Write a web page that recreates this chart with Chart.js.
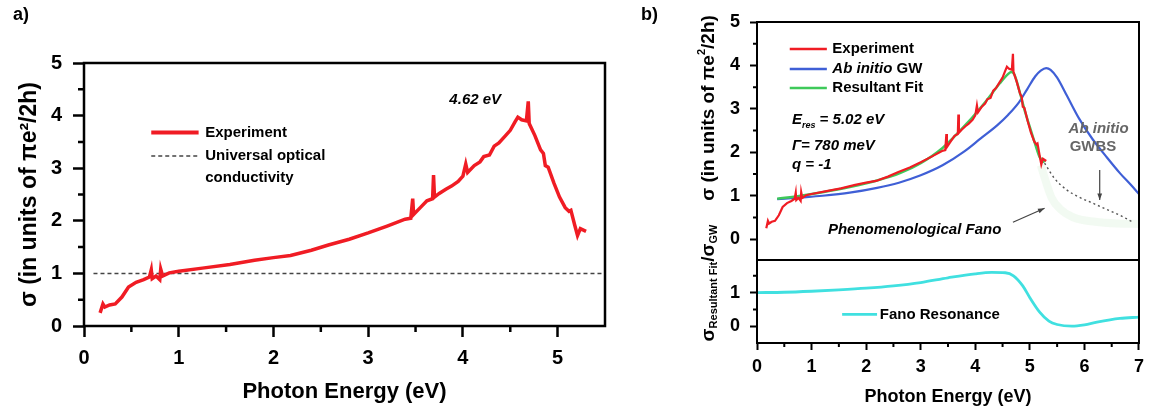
<!DOCTYPE html>
<html>
<head>
<meta charset="utf-8">
<script src="https://cdn.jsdelivr.net/npm/chart.js@4"></script>
<style>
html, body { margin: 0; padding: 0; background: #fff; }
#wrap { position: relative; width: 1150px; height: 414px; }
canvas { position: absolute; left: 0; top: 0; }
</style>
</head>
<body>
<div id="wrap">
  <canvas id="chartA" width="1150" height="414"></canvas>
  <canvas id="chartB" width="1150" height="414"></canvas>
  <canvas id="chartC" width="1150" height="414"></canvas>
</div>
<script>
// measured optical conductivity (used in both panels)
const expEnergy = [0.17,0.20,0.22,0.27,0.33,0.40,0.47,0.55,0.63,0.69,0.71,0.72,0.76,0.80,0.81,0.83,0.90,1.00,1.25,1.54,
  1.80,2.00,2.18,2.40,2.58,2.80,3.00,3.20,3.39,3.45,3.47,3.48,3.55,3.62,3.68,3.69,3.70,3.75,3.82,3.88,
  3.95,4.00,4.03,4.05,4.12,4.18,4.22,4.28,4.33,4.38,4.45,4.50,4.55,4.58,4.62,4.67,4.69,4.70,4.76,4.82,
  4.85,4.87,4.90,4.96,5.02,5.08,5.12,5.14,5.18,5.21,5.24,5.30];
const expSigma = [0.25,0.42,0.36,0.40,0.42,0.55,0.74,0.83,0.88,0.93,1.07,0.90,0.95,0.88,1.08,0.95,1.01,1.04,1.10,1.17,
  1.25,1.30,1.34,1.44,1.54,1.65,1.77,1.90,2.03,2.05,2.42,2.12,2.25,2.38,2.42,2.87,2.45,2.52,2.60,2.66,
  2.75,2.85,3.08,2.92,3.05,3.12,3.22,3.25,3.42,3.48,3.62,3.72,3.88,3.97,3.92,3.90,4.27,3.85,3.62,3.35,
  3.28,3.05,3.02,2.72,2.45,2.25,2.18,2.20,1.92,1.72,1.85,1.80];

// universal optical conductivity
const univEnergy = [0.1, 5.5];
const univSigma = [1, 1];

// panel b, upper
const fitEnergy = [0.37,0.8,1.2,1.7,2.2,2.62,3.0,3.4,3.85,4.21,4.45,4.6,4.66,4.72,4.82,4.92,5.0,5.09,5.18,5.27];
const fitSigma = [0.93,1.0,1.08,1.2,1.35,1.52,1.75,2.1,2.67,3.2,3.59,3.8,3.85,3.78,3.36,2.9,2.58,2.22,1.89,1.77];
const gwEnergy = [0.37,0.8,1.2,1.7,2.2,2.6,3.0,3.4,3.8,4.1,4.4,4.6,4.8,4.95,5.1,5.2,5.3,5.38,5.5,5.68,5.9,6.15,6.4,6.65,6.85,7.0];
const gwSigma = [0.92,0.96,1.0,1.07,1.18,1.3,1.47,1.7,2.02,2.32,2.62,2.86,3.15,3.45,3.75,3.88,3.94,3.9,3.72,3.3,2.78,2.3,1.9,1.52,1.25,1.04];
const gwbsEnergy = [5.27,5.45,5.68,5.9,6.15,6.4,6.65,6.89];
const gwbsSigma = [1.75,1.4,1.13,0.97,0.83,0.69,0.55,0.39];
const fanoTailEnergy = [5.2,5.3,5.4,5.55,5.8,6.2,6.6,7.0];
const fanoTailSigma = [1.7,1.3,0.95,0.7,0.5,0.4,0.36,0.35];

// panel b, lower: sigma(fit) / sigma(GW)
const ratioEnergy = [0,0.5,1,1.5,2,2.5,3,3.5,4,4.3,4.55,4.7,4.87,5.0,5.18,5.35,5.5,5.77,6.0,6.23,6.65,7];
const ratioValue = [1.0,1.01,1.04,1.08,1.13,1.2,1.3,1.44,1.56,1.6,1.59,1.5,1.2,0.85,0.42,0.15,0.05,0.0,0.04,0.12,0.23,0.27];

// tick labels
const aXTicks = [0,1,2,3,4,5];
const aYTicks = [0,1,2,3,4,5];
const bXTicks = [0,1,2,3,4,5,6,7];
const bYTicks = [0,1,2,3,4,5];
const cYTicks = [0,1];

const FAMILY = "'Liberation Sans', Arial, Helvetica, sans-serif";
const RED = '#f01c24', BLUE = '#3f5fd6', GREEN = '#3ec95a', CYAN = '#40e0e0';

function xy(xs, ys) { return xs.map((x, i) => ({ x: x, y: ys[i] })); }
function halves(lo, hi) { const r = []; for (let v = lo; v <= hi + 1e-9; v += 1) r.push(v); return r; }

function fontOf(r) { return (r.style || 'bold') + ' ' + r.size + 'px ' + FAMILY; }

function drawRuns(ctx, x, y, runs, align, rot, color) {
  ctx.save();
  ctx.translate(x, y);
  ctx.rotate(rot || 0);
  ctx.textBaseline = 'middle';
  ctx.textAlign = 'left';
  ctx.fillStyle = color || '#000';
  let w = 0;
  runs.forEach(r => { ctx.font = fontOf(r); w += ctx.measureText(r.t).width; });
  let cx = align === 'center' ? -w / 2 : align === 'right' ? -w : 0;
  runs.forEach(r => {
    ctx.font = fontOf(r);
    ctx.fillText(r.t, cx, r.dy || 0);
    cx += ctx.measureText(r.t).width;
  });
  ctx.restore();
}

// box around the plot area plus short minor ticks
const framePlugin = {
  id: 'frame',
  afterDatasetsDraw(chart, args, o) {
    const { ctx, chartArea: a, scales } = chart;
    ctx.save();
    ctx.strokeStyle = '#000';
    ctx.lineWidth = o.width;
    ctx.setLineDash([]);
    ctx.strokeRect(a.left, a.top, a.right - a.left, a.bottom - a.top);
    ctx.beginPath();
    (o.minorX || []).forEach(v => {
      const p = scales.x.getPixelForValue(v);
      ctx.moveTo(p, a.bottom); ctx.lineTo(p, a.bottom + o.minorLen);
    });
    (o.minorY || []).forEach(v => {
      const p = scales.y.getPixelForValue(v);
      ctx.moveTo(a.left, p); ctx.lineTo(a.left - o.minorLen, p);
    });
    ctx.stroke();
    ctx.restore();
  }
};

// legend samples, arrows and labels
const notesPlugin = {
  id: 'notes',
  afterDatasetsDraw(chart, args, o) {
    const ctx = chart.ctx, sx = chart.scales.x, sy = chart.scales.y;
    ctx.save();
    (o.lines || []).forEach(l => {
      const x0 = sx.getPixelForValue(l.x[0]), y0 = sy.getPixelForValue(l.y[0]);
      const x1 = sx.getPixelForValue(l.x[1]), y1 = sy.getPixelForValue(l.y[1]);
      ctx.beginPath();
      ctx.strokeStyle = l.color;
      ctx.lineWidth = l.width;
      ctx.setLineDash(l.dash || []);
      ctx.moveTo(x0, y0); ctx.lineTo(x1, y1);
      ctx.stroke();
      if (l.arrow) {
        const ang = Math.atan2(y1 - y0, x1 - x0), h = 7;
        ctx.setLineDash([]);
        ctx.beginPath();
        ctx.fillStyle = l.color;
        ctx.moveTo(x1, y1);
        ctx.lineTo(x1 - h * Math.cos(ang - 0.35), y1 - h * Math.sin(ang - 0.35));
        ctx.lineTo(x1 - h * Math.cos(ang + 0.35), y1 - h * Math.sin(ang + 0.35));
        ctx.closePath();
        ctx.fill();
      }
    });
    (o.texts || []).forEach(t => {
      const px = t.px ? t.px[0] : sx.getPixelForValue(t.x);
      const py = t.px ? t.px[1] : sy.getPixelForValue(t.y);
      drawRuns(ctx, px, py, t.runs, t.align, t.rot, t.color);
    });
    ctx.restore();
  }
};

function axis(o) {
  return {
    type: 'linear',
    min: o.min, max: o.max,
    display: o.display !== false,
    afterBuildTicks: s => { s.ticks = o.ticks.map(v => ({ value: v })); },
    afterFit: s => { if (s.isHorizontal()) s.height = o.size; else s.width = o.size; },
    border: { display: false },
    grid: { drawOnChartArea: false, drawTicks: true, tickLength: o.tickLen, tickWidth: o.lw, tickColor: '#000' },
    ticks: { color: '#000', font: { family: FAMILY, size: o.font, weight: 'bold' }, padding: o.pad,
      maxRotation: 0, autoSkip: false, callback: v => String(v) },
    title: o.title ? { display: true, text: o.title, color: '#000',
      font: { family: FAMILY, size: o.titleSize, weight: 'bold' }, padding: o.titlePad } : { display: false }
  };
}

const base = { responsive: false, animation: false, events: [] };

// ---------- panel a ----------
new Chart(document.getElementById('chartA'), {
  type: 'scatter',
  data: {
    datasets: [
      { label: 'Experiment', data: xy(expEnergy, expSigma), showLine: true, borderColor: RED, borderWidth: 3.5,
        pointRadius: 0, tension: 0 },
      { label: 'Universal optical conductivity', data: xy(univEnergy, univSigma), showLine: true, borderColor: '#444',
        borderWidth: 1.5, borderDash: [4, 3], pointRadius: 0 }
    ]
  },
  options: Object.assign({}, base, {
    layout: { padding: { left: 0, top: 63, right: 545, bottom: 0 } },
    plugins: {
      legend: { display: false }, tooltip: { enabled: false },
      frame: { width: 2.5, minorLen: 6, minorX: halves(0.5, 5.0), minorY: halves(0.5, 4.5) },
      notes: {
        lines: [
          { x: [0.71, 1.21], y: [3.68, 3.68], color: RED, width: 4 },
          { x: [0.71, 1.21], y: [3.23, 3.23], color: '#444', width: 1.5, dash: [4, 3] }
        ],
        texts: [
          { x: 1.28, y: 3.68, runs: [{ t: 'Experiment', size: 15 }] },
          { x: 1.28, y: 3.23, runs: [{ t: 'Universal optical', size: 15 }] },
          { x: 1.28, y: 2.81, runs: [{ t: 'conductivity', size: 15 }] },
          { x: 4.13, y: 4.29, align: 'center', runs: [{ t: '4.62 eV', size: 15, style: 'italic bold' }] },
          { px: [13, 15], runs: [{ t: 'a)', size: 18 }] }
        ]
      }
    },
    scales: {
      x: axis({ min: 0, max: 5.5, ticks: aXTicks, size: 88, tickLen: 11, lw: 2.5, font: 20, pad: 9,
        title: 'Photon Energy (eV)', titleSize: 22, titlePad: { top: 0, bottom: 9 } }),
      y: axis({ min: 0, max: 5, ticks: aYTicks, size: 84, tickLen: 11, lw: 2.5, font: 20, pad: 11,
        title: 'σ (in units of πe²/2h)', titleSize: 23, titlePad: { top: 16, bottom: 0 } })
    }
  }),
  plugins: [framePlugin, notesPlugin]
});

// ---------- panel b, upper ----------
new Chart(document.getElementById('chartB'), {
  type: 'scatter',
  data: {
    datasets: [
      { label: 'Experiment', data: xy(expEnergy, expSigma), showLine: true, borderColor: RED, borderWidth: 2.2,
        pointRadius: 0, tension: 0 },
      { label: 'Resultant Fit', data: xy(fitEnergy, fitSigma), showLine: true, borderColor: GREEN, borderWidth: 2.5,
        pointRadius: 0, cubicInterpolationMode: 'monotone' },
      { label: 'Ab initio GW', data: xy(gwEnergy, gwSigma), showLine: true, borderColor: BLUE, borderWidth: 2.2,
        pointRadius: 0, cubicInterpolationMode: 'monotone' },
      { label: 'Ab initio GWBS', data: xy(gwbsEnergy, gwbsSigma), showLine: true, borderColor: '#555',
        borderWidth: 1.4, borderDash: [2, 3], pointRadius: 0, cubicInterpolationMode: 'monotone' },
      { label: 'Phenomenological Fano', data: xy(fanoTailEnergy, fanoTailSigma), showLine: true,
        borderColor: 'rgba(150,215,150,0.12)', borderWidth: 8, pointRadius: 0, cubicInterpolationMode: 'monotone' }
    ]
  },
  options: Object.assign({}, base, {
    layout: { padding: { left: 640, top: 22, right: 11, bottom: 154 } },
    plugins: {
      legend: { display: false }, tooltip: { enabled: false },
      frame: { width: 2, minorLen: 4, minorY: halves(0.5, 4.5) },
      notes: {
        lines: [
          { x: [0.6, 1.28], y: [4.38, 4.38], color: RED, width: 2.5 },
          { x: [0.6, 1.28], y: [3.92, 3.92], color: BLUE, width: 2.5 },
          { x: [0.6, 1.28], y: [3.48, 3.48], color: GREEN, width: 2.5 },
          { x: [4.69, 5.27], y: [0.39, 0.71], color: '#444', width: 1.2, arrow: true },
          { x: [6.28, 6.28], y: [1.59, 0.9], color: '#444', width: 1.2, arrow: true }
        ],
        texts: [
          { x: 1.38, y: 4.38, runs: [{ t: 'Experiment', size: 15 }] },
          { x: 1.38, y: 3.92, runs: [{ t: 'Ab initio', size: 15, style: 'italic bold' }, { t: ' GW', size: 15 }] },
          { x: 1.38, y: 3.48, runs: [{ t: 'Resultant Fit', size: 15 }] },
          { x: 0.64, y: 2.74, runs: [{ t: 'E', size: 15, style: 'italic bold' }, { t: 'res', size: 9, style: 'italic bold', dy: 5 },
            { t: ' = 5.02 eV', size: 15, style: 'italic bold' }] },
          { x: 0.64, y: 2.14, runs: [{ t: 'Γ= 780 meV', size: 15, style: 'italic bold' }] },
          { x: 0.64, y: 1.70, runs: [{ t: 'q = -1', size: 15, style: 'italic bold' }] },
          { x: 6.26, y: 2.55, align: 'center', color: '#666', runs: [{ t: 'Ab initio', size: 15, style: 'italic bold' }] },
          { x: 5.73, y: 2.12, color: '#666', runs: [{ t: 'GWBS', size: 15 }] },
          { x: 1.30, y: 0.21, runs: [{ t: 'Phenomenological Fano', size: 15, style: 'italic bold' }] },
          { px: [641, 15], runs: [{ t: 'b)', size: 18 }] },
          { px: [709, 108], align: 'center', rot: -Math.PI / 2,
            runs: [{ t: 'σ (in units of πe', size: 19 }, { t: '2', size: 11, dy: -7 }, { t: '/2h)', size: 19 }] },
          { px: [709, 283], align: 'center', rot: -Math.PI / 2,
            runs: [{ t: 'σ', size: 19 }, { t: 'Resultant Fit', size: 11, dy: 5 }, { t: '/σ', size: 19 }, { t: 'GW', size: 11, dy: 5 }] }
        ]
      }
    },
    scales: {
      x: axis({ min: 0, max: 7, ticks: bXTicks, display: false, size: 0, tickLen: 7, lw: 2, font: 18, pad: 6 }),
      y: axis({ min: -0.48, max: 5, ticks: bYTicks, size: 117, tickLen: 7, lw: 2, font: 18, pad: 10 })
    }
  }),
  plugins: [framePlugin, notesPlugin]
});

// ---------- panel b, lower ----------
new Chart(document.getElementById('chartC'), {
  type: 'scatter',
  data: {
    datasets: [
      { label: 'Fano Resonance', data: xy(ratioEnergy, ratioValue), showLine: true, borderColor: CYAN, borderWidth: 2.8,
        pointRadius: 0, cubicInterpolationMode: 'monotone' }
    ]
  },
  options: Object.assign({}, base, {
    layout: { padding: { left: 640, top: 260, right: 11, bottom: 0 } },
    plugins: {
      legend: { display: false }, tooltip: { enabled: false },
      frame: { width: 2, minorLen: 4, minorX: halves(0.5, 6.5), minorY: [0.5, 1.5] },
      notes: {
        lines: [{ x: [1.56, 2.2], y: [0.35, 0.35], color: CYAN, width: 2.8 }],
        texts: [{ x: 2.25, y: 0.35, runs: [{ t: 'Fano Resonance', size: 15 }] }]
      }
    },
    scales: {
      x: axis({ min: 0, max: 7, ticks: bXTicks, size: 71, tickLen: 7, lw: 2, font: 18, pad: 6,
        title: 'Photon Energy (eV)', titleSize: 18, titlePad: { top: 0, bottom: 6 } }),
      y: axis({ min: -0.5, max: 1.97, ticks: cYTicks, size: 117, tickLen: 7, lw: 2, font: 18, pad: 10 })
    }
  }),
  plugins: [framePlugin, notesPlugin]
});
</script>
</body>
</html>
